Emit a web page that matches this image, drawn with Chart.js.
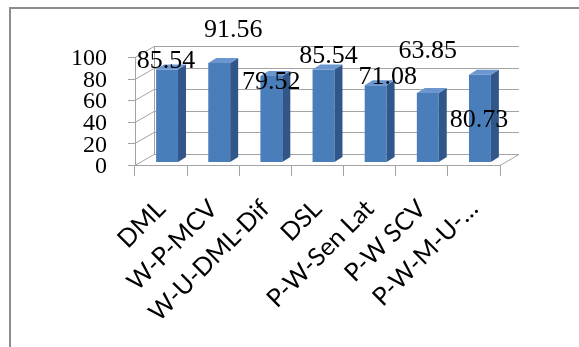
<!DOCTYPE html>
<html>
<head>
<meta charset="utf-8">
<script src="https://cdn.jsdelivr.net/npm/chart.js@4/dist/chart.umd.min.js"></script>
<style>
  html, body { margin: 0; padding: 0; background: #fff; overflow: hidden; }
  #c { display: block; }
</style>
</head>
<body>
<canvas id="c" width="579" height="347"></canvas>
<script>
// Scores per method
const categories = ['DML', 'W-P-MCV', 'W-U-DML-Dif', 'DSL', 'P-W-Sen Lat', 'P-W SCV', 'P-W-M-U-…'];
const scores = [85.54, 91.56, 79.52, 85.54, 71.08, 63.85, 80.73];
const yTicks = [0, 20, 40, 60, 80, 100];

// Pseudo-3D projection settings
const WALL = { dx: 19, dy: 11 };       // depth of the back wall
const BAR_SHIFT = { dx: 6, dy: 3 };    // bars sit a little behind the front edge
const BAR_DEPTH = { dx: 8, dy: 5 };    // thickness of each column
const GRID = '#a3a3a3';
const FRONT = '#4a7ebb', SIDE = '#30568a', TOP = '#6b96cf';

// Where each value label sits relative to its column's top
const labelNudge = [[-1, -8], [14, -33], [0, 6], [5, -13], [12, -8], [0, -42], [-1, 45]];

const walls3d = {
  id: 'walls3d',
  beforeDraw(chart) {
    const ctx = chart.ctx;
    ctx.save();
    ctx.strokeStyle = '#8c8c8c';
    ctx.lineWidth = 2;
    ctx.beginPath();
    ctx.moveTo(10, 347); ctx.lineTo(10, 8); ctx.lineTo(579, 8);
    ctx.stroke();
    ctx.restore();
  },
  beforeDatasetsDraw(chart) {
    const { ctx, chartArea: a, scales: { y } } = chart;
    ctx.save();
    ctx.strokeStyle = GRID;
    ctx.lineWidth = 1;
    ctx.beginPath();
    yTicks.forEach(v => {
      const py = Math.round(y.getPixelForValue(v)) + 0.5;
      // tick mark, side wall diagonal, back wall line
      ctx.moveTo(a.left - 7, py); ctx.lineTo(a.left, py);
      ctx.lineTo(a.left + WALL.dx, py - WALL.dy);
      ctx.lineTo(a.right + WALL.dx, py - WALL.dy);
    });
    const top = Math.round(y.getPixelForValue(100)) + 0.5;
    const bot = Math.round(y.getPixelForValue(0)) + 0.5;
    ctx.moveTo(a.left + WALL.dx + 0.5, top - WALL.dy);
    ctx.lineTo(a.left + WALL.dx + 0.5, bot - WALL.dy);
    ctx.moveTo(a.left + 0.5, top);
    ctx.lineTo(a.left + 0.5, bot);
    // right edge of the floor
    ctx.moveTo(a.right, bot);
    ctx.lineTo(a.right + WALL.dx, bot - WALL.dy);
    ctx.stroke();
    ctx.restore();

    ctx.save();
    ctx.translate(BAR_SHIFT.dx, -BAR_SHIFT.dy);
  },
  afterDatasetsDraw(chart) {
    const ctx = chart.ctx;
    const meta = chart.getDatasetMeta(0);
    meta.data.forEach(bar => {
      const l = bar.x - bar.width / 2, r = bar.x + bar.width / 2;
      const t = bar.y, b = bar.base;
      ctx.fillStyle = SIDE;
      ctx.beginPath();
      ctx.moveTo(r, t); ctx.lineTo(r + BAR_DEPTH.dx, t - BAR_DEPTH.dy);
      ctx.lineTo(r + BAR_DEPTH.dx, b - BAR_DEPTH.dy); ctx.lineTo(r, b);
      ctx.closePath(); ctx.fill();
      ctx.fillStyle = TOP;
      ctx.beginPath();
      ctx.moveTo(l, t); ctx.lineTo(r, t);
      ctx.lineTo(r + BAR_DEPTH.dx, t - BAR_DEPTH.dy); ctx.lineTo(l + BAR_DEPTH.dx, t - BAR_DEPTH.dy);
      ctx.closePath(); ctx.fill();
    });
    ctx.restore();

    // value labels
    ctx.save();
    ctx.font = '26px "Liberation Serif"';
    ctx.fillStyle = '#000';
    ctx.textAlign = 'center';
    ctx.textBaseline = 'middle';
    meta.data.forEach((bar, i) => {
      const cx = bar.x + BAR_SHIFT.dx + labelNudge[i][0];
      const cy = bar.y - BAR_SHIFT.dy + labelNudge[i][1];
      ctx.fillText(scores[i].toFixed(2), cx, cy);
    });
    ctx.restore();
  }
};

new Chart(document.getElementById('c'), {
  type: 'bar',
  data: {
    labels: categories,
    datasets: [{
      data: scores,
      backgroundColor: FRONT,
      borderWidth: 0,
      barPercentage: 0.42,
      categoryPercentage: 1
    }]
  },
  options: {
    responsive: false,
    devicePixelRatio: 1,
    animation: false,
    layout: { padding: { top: 57, right: 79, left: 0, bottom: 0 } },
    plugins: { legend: { display: false }, tooltip: { enabled: false } },
    scales: {
      x: {
        grid: { display: true, drawOnChartArea: false, drawTicks: true, tickLength: 11, color: GRID, offset: true },
        border: { display: true, color: GRID },
        ticks: {
          autoSkip: false, maxRotation: 45, minRotation: 45, padding: 18,
          font: { family: 'Lato', size: 25 }, color: '#000'
        },
        afterFit(s) { s.height = 182; }
      },
      y: {
        min: 0, max: 100,
        afterBuildTicks(s) { s.ticks = yTicks.map(v => ({ value: v })); },
        grid: { display: false },
        border: { display: false },
        ticks: {
          autoSkip: false, padding: 20, labelOffset: 2,
          font: { family: 'Liberation Serif', size: 24, lineHeight: 1 }, color: '#000'
        },
        afterFit(s) { s.width = 135; }
      }
    }
  },
  plugins: [walls3d]
});
</script>
</body>
</html>
